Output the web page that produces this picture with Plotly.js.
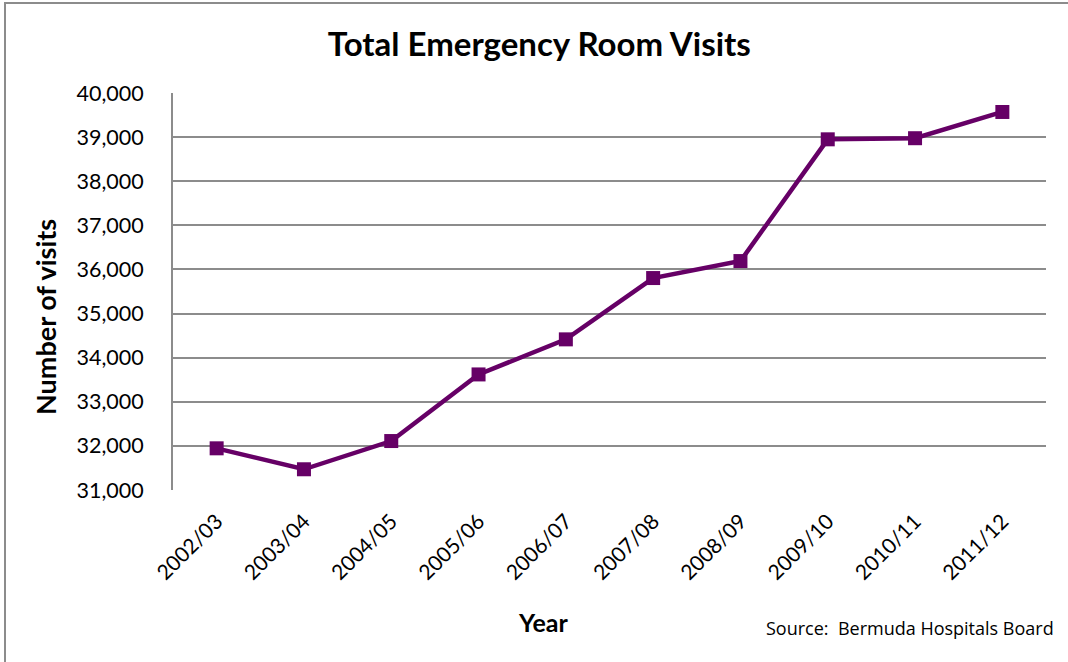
<!DOCTYPE html>
<html>
<head>
<meta charset="utf-8">
<script src="https://cdn.plot.ly/plotly-3.0.1.min.js"></script>
<style>
  html, body { margin: 0; padding: 0; background: #fff; }
  #wrap { position: relative; width: 1068px; height: 662px; overflow: hidden; }
  #chart { position: absolute; left: 0; top: 0; width: 1068px; height: 662px; }
  #frame { position: absolute; left: 4px; top: 2px; width: 1100px; height: 700px;
           border-left: 2px solid #8c8c8c; border-top: 2px solid #8c8c8c; pointer-events: none; }
</style>
</head>
<body>
<div id="wrap">
  <div id="chart"></div>
  <div id="frame"></div>
</div>
<script>
const years = ["2002/03","2003/04","2004/05","2005/06","2006/07","2007/08","2008/09","2009/10","2010/11","2011/12"];
const visits = [31945, 31470, 32110, 33620, 34415, 35805, 36190, 38950, 38975, 39570];
const yTicks = [31000, 32000, 33000, 34000, 35000, 36000, 37000, 38000, 39000, 40000];
const yTickText = ["31,000","32,000","33,000","34,000","35,000","36,000","37,000","38,000","39,000","40,000"];

const trace = {
  x: years,
  y: visits,
  type: "scatter",
  mode: "lines+markers",
  line: { color: "#660066", width: 4.5 },
  marker: { symbol: "square", size: 14, color: "#660066" },
  hoverinfo: "x+y"
};

const layout = {
  width: 1068,
  height: 662,
  margin: { l: 173, r: 22, t: 93, b: 172 },
  paper_bgcolor: "#ffffff",
  plot_bgcolor: "#ffffff",
  showlegend: false,
  font: { family: "Lato, 'DejaVu Sans', sans-serif", color: "#000" },
  title: {
    text: "<b>Total Emergency Room Visits</b>",
    font: { family: "Lato, sans-serif", size: 33, color: "#000" },
    x: 0.505, xanchor: "center",
    y: 0.933, yanchor: "middle"
  },
  xaxis: {
    type: "category",
    range: [-0.5, 9.5],
    tickangle: -45,
    tickfont: { family: "Lato, sans-serif", size: 21, color: "#000" },
    showgrid: false,
    showline: false,
    ticks: "",
    ticklabelstandoff: 14,
    zeroline: false
  },
  yaxis: {
    range: [31000, 40000],
    tickvals: yTicks,
    ticktext: yTickText,
    tickfont: { family: "Lato, sans-serif", size: 21.5, color: "#000" },
    showgrid: true,
    gridcolor: "#8c8c8c",
    gridwidth: 1.5,
    showline: true,
    linecolor: "#8c8c8c",
    linewidth: 2,
    ticks: "",
    ticklabelstandoff: 23,
    zeroline: false
  },
  annotations: [{
    text: "<b>Number of visits</b>",
    xref: "paper", yref: "paper",
    x: (45 - 173) / 873, y: (490 - 317) / 397,
    xanchor: "center", yanchor: "middle",
    textangle: -90,
    showarrow: false,
    font: { family: "Lato, sans-serif", size: 27, color: "#000" }
  }, {
    text: "<b>Year</b>",
    xref: "paper", yref: "paper",
    x: (543 - 173) / 873, y: -(622 - 490) / 397,
    xanchor: "center", yanchor: "middle",
    showarrow: false,
    font: { family: "Lato, sans-serif", size: 25, color: "#000" }
  }, {
    text: "Source:  Bermuda Hospitals Board",
    xref: "paper", yref: "paper",
    x: (1056 - 173) / 873, y: -(628 - 490) / 397,
    xanchor: "right", yanchor: "middle",
    showarrow: false,
    font: { family: "'Open Sans', sans-serif", size: 18, color: "#000" }
  }]
};

Plotly.newPlot("chart", [trace], layout, { displayModeBar: false, responsive: false });
</script>
</body>
</html>
